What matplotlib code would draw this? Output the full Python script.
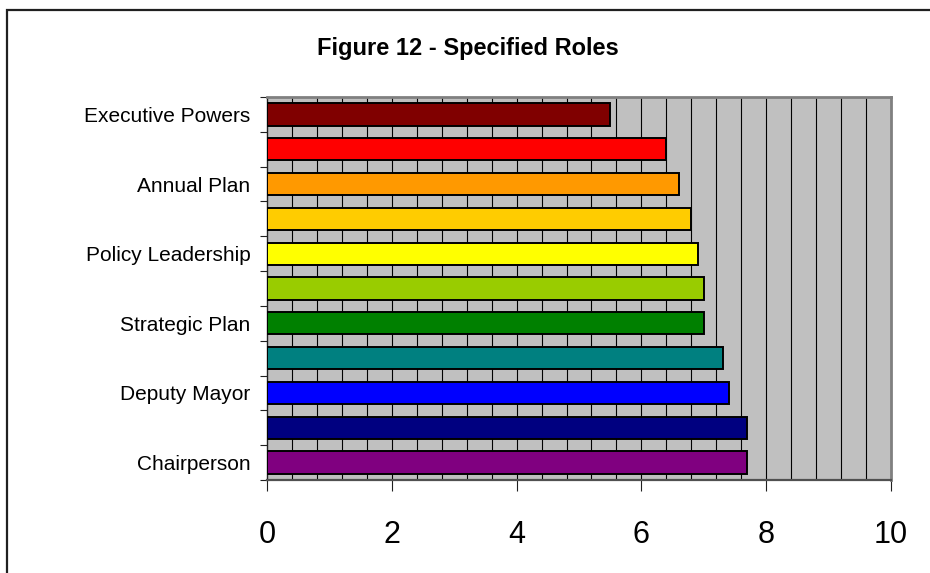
import matplotlib
matplotlib.use('Agg')
import matplotlib.pyplot as plt
import numpy as np
from matplotlib.patches import Rectangle

plt.rcParams['font.family'] = ['Liberation Sans', 'DejaVu Sans']

# categories from bottom to top (Excel hides every other label)
categorias = ['Chairperson', '', 'Deputy Mayor', '', 'Strategic Plan', '',
              'Policy Leadership', '', 'Annual Plan', '', 'Executive Powers']
valores = [7.7, 7.7, 7.4, 7.3, 7.0, 7.0, 6.9, 6.8, 6.6, 6.4, 5.5]
cores = ['#800080', '#000080', '#0000FF', '#008080', '#008000', '#99CC00',
         '#FFFF00', '#FFCC00', '#FF9900', '#FF0000', '#800000']
x_ticks = [0, 2, 4, 6, 8, 10]
titulo = 'Figure 12 - Specified Roles'

W, H = 930, 573
fig = plt.figure(figsize=(W / 100, H / 100), dpi=100)

# moldura externa (continua para fora da imagem a direita e embaixo)
fig.patches.append(Rectangle((7 / W, -0.1), 1.2, (H - 10) / H + 0.1,
                             transform=fig.transFigure, fill=False,
                             edgecolor='#202020', linewidth=1.6))

ax = fig.add_axes([267 / W, (H - 480) / H, 624 / W, 383 / H])
ax.set_facecolor('#C0C0C0')

y = np.arange(len(valores))

# linhas de grade a cada 0.4
for gx in np.arange(0.4, 10, 0.4):
    ax.axvline(gx, color='#000000', linewidth=0.8, zorder=1)

ax.barh(y, valores, height=0.64, color=cores, edgecolor='black',
        linewidth=1.4, zorder=3)

ax.set_xlim(0, 10)
ax.set_ylim(-0.5, len(valores) - 0.5)

ax.set_xticks(x_ticks)
ax.set_xticklabels([str(t) for t in x_ticks], fontsize=22)
ax.tick_params(axis='x', direction='out', length=8, width=0.8, pad=21,
               color='#202020')

ax.set_yticks(y)
ax.set_yticklabels(categorias, fontsize=15)
ax.tick_params(axis='y', which='major', length=0, pad=12)
ax.set_yticks(np.arange(-0.5, len(valores), 1.0), minor=True)
ax.tick_params(axis='y', which='minor', direction='out', length=5, width=0.8,
               color='#202020')

ax.spines['left'].set_color('#202020')
ax.spines['left'].set_linewidth(1.0)
ax.spines['bottom'].set_color('#505050')
ax.spines['bottom'].set_linewidth(1.6)
ax.spines['top'].set_color('#808080')
ax.spines['top'].set_linewidth(2.0)
ax.spines['right'].set_color('#808080')
ax.spines['right'].set_linewidth(2.0)

fig.text(468 / W, 1 - 48 / H, titulo, fontsize=17, fontweight='bold',
         ha='center', va='center')

fig.savefig('out.png', dpi=100)
